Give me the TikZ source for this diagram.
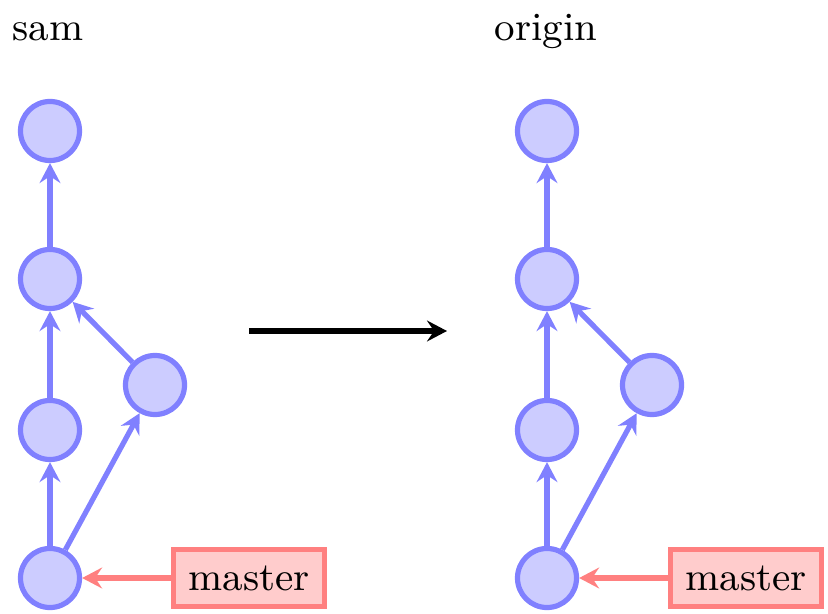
\documentclass[tikz,border=0pt]{standalone}
\usetikzlibrary{arrows.meta}
\definecolor{cfill}{HTML}{CCCCFF}
\definecolor{cdraw}{HTML}{8080FF}
\definecolor{rfill}{HTML}{FFCCCC}
\definecolor{rdraw}{HTML}{FF8080}
\tikzset{
  commit/.style={circle, draw=cdraw, fill=cfill, line width=1.2pt, minimum size=13.6pt, inner sep=0pt},
  branch/.style={rectangle, draw=rdraw, fill=rfill, line width=1.2pt, minimum width=34.7pt, minimum height=13.1pt, inner sep=0pt},
  parent/.style={draw=cdraw, line width=1.2pt, -{Stealth[length=4.6pt,width=4.8pt,inset=1.6pt]}},
  ref/.style={draw=rdraw, line width=1.2pt, -{Stealth[length=4.6pt,width=4.8pt,inset=1.6pt]}},
  bigarrow/.style={draw=black, line width=1.3pt, -{Stealth[length=4.6pt,width=4.8pt,inset=1.6pt]}},
  title/.style={inner sep=0pt}
}
\begin{document}
\begin{tikzpicture}[x=0.2304pt,y=-0.2304pt,font=\fontsize{9.2pt}{11pt}\selectfont]
\useasboundingbox (0,0) rectangle (828,614);
% left repo
\node[title] (tsam) at (48,32) {sam};
\node[commit] (a1) at (50,131) {};
\node[commit] (a2) at (50,279) {};
\node[commit] (a3) at (50,430) {};
\node[commit] (a4) at (50,578) {};
\node[commit] (as) at (155,385) {};
\node[branch] (am) at (249,578) {master};
\draw[parent] (a4) -- (a3);
\draw[parent] (a3) -- (a2);
\draw[parent] (a2) -- (a1);
\draw[parent] (a4) -- (as);
\draw[parent] (as) -- (a2);
\draw[ref] (am) -- (a4);
% arrow
\coordinate (p1) at (249,331);
\coordinate (p2) at (447,331);
\draw[bigarrow] (p1) -- (p2);
% right repo
\node[title] (torig) at (546,32) {origin};
\node[commit] (b1) at (547,131) {};
\node[commit] (b2) at (547,279) {};
\node[commit] (b3) at (547,430) {};
\node[commit] (b4) at (547,578) {};
\node[commit] (bs) at (652,385) {};
\node[branch] (bm) at (746,578) {master};
\draw[parent] (b4) -- (b3);
\draw[parent] (b3) -- (b2);
\draw[parent] (b2) -- (b1);
\draw[parent] (b4) -- (bs);
\draw[parent] (bs) -- (b2);
\draw[ref] (bm) -- (b4);
\end{tikzpicture}
\end{document}
